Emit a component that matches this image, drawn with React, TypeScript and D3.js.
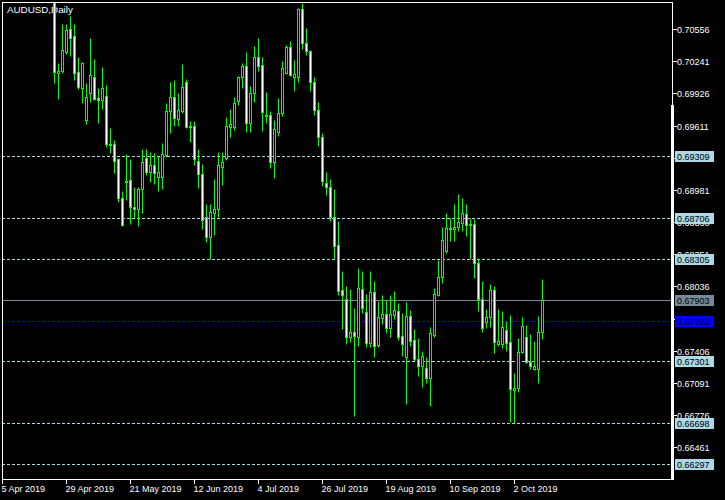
import * as d3 from 'd3'

// AUDUSD daily candles, first visible bar is 24 Apr 2019
const opens = [
  0.71185, 0.70127, 0.70147, 0.70333, 0.70558, 0.70489, 0.70137, 0.6998, 0.69667, 0.69931,
  0.70088, 0.69882, 0.69863, 0.69902, 0.69432, 0.69432, 0.69285, 0.68903, 0.69069, 0.69079,
  0.68814, 0.68795, 0.68991, 0.69294, 0.69157, 0.69226, 0.69108, 0.69108, 0.69324, 0.69755,
  0.69892, 0.69676, 0.69755, 0.70039, 0.69608, 0.69608, 0.69265, 0.69138, 0.68716, 0.68521,
  0.68756, 0.68795, 0.69206, 0.69294, 0.69598, 0.69598, 0.69853, 0.70088, 0.70196, 0.69637,
  0.69931, 0.70284, 0.70205, 0.69716, 0.69716, 0.69255, 0.69549, 0.69735, 0.70127, 0.70382,
  0.70088, 0.70088, 0.70754, 0.70421, 0.70342, 0.70039, 0.69765, 0.695, 0.6905, 0.6901,
  0.68716, 0.68442, 0.68001, 0.67913, 0.67541, 0.6759, 0.67541, 0.68011, 0.67786, 0.67482,
  0.67982, 0.67463, 0.67727, 0.67766, 0.67629, 0.67757, 0.67796, 0.67551, 0.67345, 0.67747,
  0.67512, 0.67326, 0.67257, 0.67237, 0.67139, 0.67561, 0.67952, 0.68129, 0.68383, 0.68609,
  0.68599, 0.68619, 0.68658, 0.68746, 0.68648, 0.68648, 0.68266, 0.67913, 0.67688, 0.67737,
  0.68001, 0.67473, 0.67473, 0.6761, 0.67492, 0.67022, 0.67042, 0.67394, 0.67541, 0.67296,
  0.67228, 0.67228, 0.6759,
]
const highs = [
  0.7131, 0.70225, 0.70607, 0.70607, 0.70685, 0.70607, 0.70284, 0.70235, 0.70029, 0.7047,
  0.70264, 0.6998, 0.70186, 0.70009, 0.69588, 0.69471, 0.69294, 0.68971, 0.69334, 0.69285,
  0.6901, 0.6901, 0.69383, 0.69383, 0.69353, 0.69343, 0.69314, 0.69441, 0.69833, 0.70039,
  0.70058, 0.69931, 0.70215, 0.70068, 0.69657, 0.69657, 0.69383, 0.69236, 0.68844, 0.68844,
  0.69089, 0.69353, 0.69353, 0.69696, 0.69774, 0.69892, 0.70098, 0.70225, 0.70333, 0.7,
  0.70391, 0.7047, 0.70284, 0.69941, 0.69755, 0.69667, 0.69882, 0.70245, 0.70401, 0.7044,
  0.70254, 0.70764, 0.70812, 0.70568, 0.70352, 0.70088, 0.69843, 0.69539, 0.69157, 0.69089,
  0.68991, 0.68677, 0.68188, 0.68041, 0.68011, 0.67825, 0.68217, 0.68188, 0.67962, 0.68188,
  0.6809, 0.67894, 0.67952, 0.67903, 0.67952, 0.67992, 0.67874, 0.67776, 0.67884, 0.67806,
  0.67619, 0.67531, 0.67404, 0.67345, 0.67639, 0.68021, 0.68295, 0.68619, 0.68756, 0.68707,
  0.68844, 0.68942, 0.68903, 0.68844, 0.68707, 0.68697, 0.68315, 0.6809, 0.67815, 0.6806,
  0.68041, 0.67815, 0.67796, 0.67698, 0.67757, 0.67188, 0.67531, 0.67737, 0.67659, 0.6757,
  0.67502, 0.67747, 0.68109,
]
const lows = [
  0.70029, 0.69872, 0.70127, 0.70313, 0.70294, 0.70058, 0.6997, 0.69833, 0.69627, 0.69843,
  0.69863, 0.69637, 0.69774, 0.69402, 0.69343, 0.69147, 0.68863, 0.68628, 0.68883, 0.68648,
  0.68707, 0.68628, 0.68756, 0.69128, 0.69059, 0.6904, 0.68971, 0.68991, 0.69304, 0.69539,
  0.69608, 0.69608, 0.69735, 0.69588, 0.69451, 0.69226, 0.69001, 0.68599, 0.68472, 0.68305,
  0.6854, 0.68716, 0.6903, 0.69275, 0.695, 0.69569, 0.69814, 0.6998, 0.69549, 0.69549,
  0.69843, 0.70147, 0.69559, 0.69637, 0.69196, 0.69098, 0.6951, 0.69706, 0.70117, 0.70098,
  0.69951, 0.70039, 0.70362, 0.70303, 0.69951, 0.69716, 0.69412, 0.6902, 0.68932, 0.68677,
  0.68305, 0.67952, 0.67619, 0.67473, 0.67492, 0.66767, 0.67453, 0.67776, 0.67443, 0.67443,
  0.67345, 0.67443, 0.67668, 0.6758, 0.67541, 0.67717, 0.67512, 0.67355, 0.66885, 0.67453,
  0.67306, 0.67159, 0.67051, 0.67091, 0.66865, 0.67541, 0.67943, 0.6807, 0.68364, 0.68481,
  0.68481, 0.68579, 0.68579, 0.6853, 0.68305, 0.68119, 0.67796, 0.6759, 0.67629, 0.67639,
  0.67384, 0.67453, 0.67433, 0.67404, 0.66709, 0.66699, 0.67002, 0.67384, 0.67286, 0.67228,
  0.67218, 0.67091, 0.67521,
]
const closes = [
  0.70137, 0.70147, 0.70352, 0.70548, 0.7047, 0.70127, 0.6999, 0.70225, 0.69892, 0.70107,
  0.69872, 0.69863, 0.6998, 0.69432, 0.69422, 0.69265, 0.68903, 0.68638, 0.69059, 0.68814,
  0.68795, 0.68991, 0.69255, 0.69157, 0.69226, 0.69147, 0.69157, 0.69334, 0.69755, 0.69892,
  0.69686, 0.69765, 0.6999, 0.69598, 0.69598, 0.69285, 0.69138, 0.68687, 0.68521, 0.68765,
  0.68795, 0.69226, 0.69255, 0.69608, 0.69627, 0.69833, 0.70088, 0.70196, 0.69637, 0.69931,
  0.70284, 0.70196, 0.69745, 0.69706, 0.69255, 0.69578, 0.69735, 0.70176, 0.70382, 0.70107,
  0.70117, 0.70754, 0.70421, 0.70342, 0.70039, 0.69765, 0.695, 0.69069, 0.6901, 0.68716,
  0.68432, 0.67992, 0.67952, 0.67541, 0.6759, 0.67551, 0.68021, 0.67825, 0.67482, 0.67982,
  0.67453, 0.67737, 0.67766, 0.67629, 0.67766, 0.67806, 0.67541, 0.67473, 0.67747, 0.67502,
  0.67326, 0.67257, 0.67355, 0.67139, 0.6758, 0.67962, 0.68129, 0.68491, 0.68609, 0.68599,
  0.68619, 0.68668, 0.68756, 0.68638, 0.68638, 0.68266, 0.67913, 0.67629, 0.67737, 0.68001,
  0.67492, 0.67502, 0.67639, 0.67482, 0.67032, 0.67042, 0.67394, 0.67649, 0.67296, 0.67257,
  0.67257, 0.6759, 0.67903,
]

// price scale labels
const priceTicks = [
  0.70556, 0.70241, 0.69926, 0.69611, 0.69296, 0.68981, 0.68666,
  0.68351, 0.68036, 0.67721, 0.67406, 0.67091, 0.66776, 0.66461,
]
// horizontal levels drawn as dashed light blue lines
const levels = [0.69309, 0.68706, 0.68305, 0.67301, 0.66698, 0.66297]
const bidPrice = 0.67903
const bluePrice = 0.67702

// time scale labels, offsets are bar positions relative to the first visible bar
const dateLabels = [
  '5 Apr 2019', '29 Apr 2019', '21 May 2019', '12 Jun 2019', '4 Jul 2019',
  '26 Jul 2019', '19 Aug 2019', '10 Sep 2019', '2 Oct 2019',
]
const dateOffsets = [-13, 3, 19, 35, 51, 67, 83, 99, 115]

const title = 'AUDUSD,Daily'

const W = 725
const H = 500
const left = 2
const right = 672
const top = 2
const bottom = 479
const font = "'Liberation Sans', Arial, sans-serif"
const green = '#00ff00'
const lightBlue = '#add8e6'

export default function App() {
  const bars = opens.map((o, i) => ({ o, h: highs[i], l: lows[i], c: closes[i], i }))

  const x = d3.scaleLinear().domain([0, 1]).range([54.5, 58.5])
  const y = d3.scaleLinear().domain([0.6615, 0.70822]).range([bottom, top])
  const py = (p: number) => Math.round(y(p)) + 0.5

  const fmt = d3.format('.5f')

  // tick labels that sit fully under a price box are not visible in MT4
  const boxPrices = [...levels, bidPrice, bluePrice]
  const visibleTicks = priceTicks.filter(
    p => d3.min(boxPrices, b => Math.abs(py(b) - py(p)))! > 3
  )

  return (
    <svg
      width={W}
      height={H}
      style={{ position: 'absolute', left: 0, top: 0, background: '#000' }}
      fontFamily={font}
      fontSize={9}
    >
      <rect x={0} y={0} width={W} height={H} fill="#000" />
      <defs>
        <clipPath id="plot">
          <rect x={left} y={top} width={right - left} height={bottom - top} />
        </clipPath>
      </defs>

      <text x={7} y={13} fill="#fff" fontSize={9.8}>{title}</text>

      {/* level lines */}
      {levels.map(p => (
        <line key={p} x1={left} x2={right} y1={py(p)} y2={py(p)}
          stroke={lightBlue} strokeDasharray="3 2" />
      ))}
      <line x1={left} x2={right} y1={py(bidPrice)} y2={py(bidPrice)} stroke="#778899" />
      <line x1={left} x2={right} y1={py(bluePrice)} y2={py(bluePrice)}
        stroke="#0000ff" strokeDasharray="3 2" />

      {/* candles */}
      <g clipPath="url(#plot)">
        {bars.map(b => {
          const cx = x(b.i)
          const yo = py(b.o)
          const yc = py(b.c)
          const bull = b.c > b.o
          return (
            <g key={b.i}>
              <line x1={cx} x2={cx} y1={py(b.h)} y2={py(b.l)} stroke={green} />
              <rect
                x={cx - 1}
                y={Math.min(yo, yc)}
                width={2}
                height={Math.max(Math.abs(yo - yc), 1)}
                fill={bull ? '#000' : '#fff'}
                stroke={green}
              />
            </g>
          )
        })}
      </g>

      {/* frame */}
      <line x1={left + 0.5} x2={left + 0.5} y1={top} y2={bottom + 0.5} stroke="#fff" />
      <line x1={left} x2={right + 0.5} y1={top + 0.5} y2={top + 0.5} stroke="#fff" />
      <line x1={left} x2={right + 1} y1={bottom + 0.5} y2={bottom + 0.5} stroke="#fff" />
      <line x1={right + 0.5} x2={right + 0.5} y1={top} y2={bottom + 1} stroke="#fff" />
      <rect x={right - 1} y={105} width={3} height={bottom + 1 - 105} fill="#fff" />

      {/* price axis */}
      {priceTicks.map(p => (
        <line key={p} x1={right + 1} x2={right + 5} y1={py(p)} y2={py(p)} stroke="#fff" />
      ))}
      {visibleTicks.map(p => (
        <text key={p} x={677} y={py(p)} dy="0.35em" fill="#fff">{fmt(p)}</text>
      ))}
      {levels.map(p => (
        <g key={p}>
          <rect x={675} y={py(p) - 5.5} width={39} height={11} fill={lightBlue} />
          <text x={677} y={py(p)} dy="0.35em" fill="#000">{fmt(p)}</text>
        </g>
      ))}
      <rect x={675} y={py(bidPrice) - 5.5} width={39} height={11} fill="#778899" />
      <text x={677} y={py(bidPrice)} dy="0.35em" fill="#000">{fmt(bidPrice)}</text>
      <rect x={675} y={py(bluePrice) - 5.5} width={39} height={11} fill="#0000ff" />
      <text x={677} y={py(bluePrice)} dy="0.35em" fill="#000">{fmt(bluePrice)}</text>

      {/* time axis */}
      {dateLabels.map((d, k) => {
        const tx = x(dateOffsets[k])
        return (
          <g key={d}>
            <line x1={tx} x2={tx} y1={bottom} y2={bottom + 5} stroke="#fff" />
            <text x={tx - 1} y={492} fill="#fff">{d}</text>
          </g>
        )
      })}
    </svg>
  )
}
